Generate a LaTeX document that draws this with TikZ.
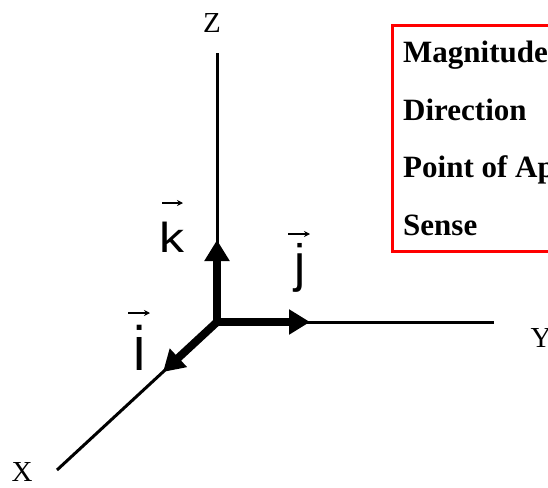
\documentclass[tikz,border=0pt]{standalone}
\usepackage{fontspec}
\setmainfont{Liberation Serif}
\setsansfont{Liberation Sans}
\usetikzlibrary{arrows.meta, fit, calc}
\tikzset{
  % Coordinate axes
  axis/.style={line width=3pt},
  % Unit vectors
  unitvec/.style={
    line width=8pt, line cap=rect,
    -{Triangle[length=21pt, width=24pt]}
  },
  axislabel/.style={font=\fontsize{29}{34}\selectfont, inner sep=0pt},
  veclabel/.style={font=\fontsize{50}{60}\selectfont\sffamily, inner sep=0pt, anchor=base},
  % Small arrow over a vector letter
  overarrow/.style={line width=1.8pt, -{Stealth[length=6pt, width=6pt]}},
  % Properties box
  proptext/.style={font=\fontsize{31}{37}\selectfont\bfseries, inner sep=0pt, anchor=base west},
  propbox/.style={draw=red, line width=3pt, inner xsep=10.5pt, inner ysep=16pt},
}

\begin{document}
\begin{tikzpicture}[x=1pt, y=-1pt]

  \path[use as bounding box, clip] (0,0) rectangle (548,487);

  %% ── Points ──
  \coordinate (O)    at (217,322);
  \coordinate (zEnd) at (217,53);
  \coordinate (yEnd) at (494,322);
  \coordinate (xEnd) at (57,470);
  \coordinate (kTip) at (217,240);
  \coordinate (jTip) at (310,322);
  \coordinate (iTip) at (163,372);

  %% ── Axes ──
  \draw[axis] (O) -- (zEnd);
  \draw[axis] (O) -- (yEnd);
  \draw[axis] (O) -- (xEnd);

  \node[axislabel] (zLbl) at (212,23)  {Z};
  \node[axislabel] (yLbl) at (541,338) {Y};
  \node[axislabel] (xLbl) at (22,472)  {X};

  %% ── Unit vectors ──
  \draw[unitvec] (O) -- (kTip);
  \draw[unitvec] (O) -- (jTip);
  \draw[unitvec] (O) -- (iTip);

  \node[veclabel, yscale=0.84]              (kLbl) at (172,252)   {k};
  \node[veclabel, yscale=1.05]              (jLbl) at (300,281)   {j};
  \node[veclabel, yscale=1.25, xscale=1.1]  (iLbl) at (139.5,370) {i};

  \draw[overarrow] ($(kLbl.base)+(-10,-49)$)   -- ++(21,0);
  \draw[overarrow] ($(jLbl.base)+(-12,-47)$)   -- ++(22,0);
  \draw[overarrow] ($(iLbl.base)+(-11.5,-57)$) -- ++(22,0);

  %% ── Properties ──
  \node[proptext] (mag)   at (403,63)  {Magnitude};
  \node[proptext] (dir)   at (403,120) {Direction};
  \node[proptext] (poa)   at (403,177) {Point of Ap};
  \node[proptext] (sense) at (403,235) {Sense};

  \node[propbox, fit=(mag)(dir)(poa)(sense)] (props) {};

\end{tikzpicture}
\end{document}
